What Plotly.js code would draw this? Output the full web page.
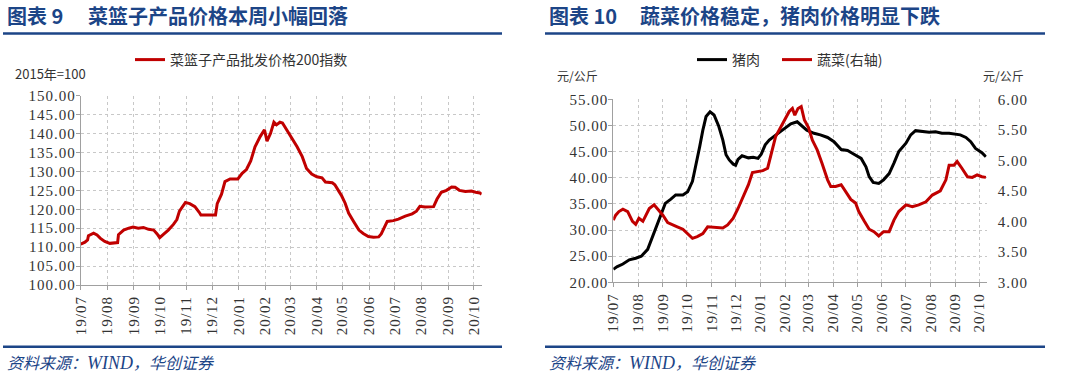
<!DOCTYPE html>
<html><head><meta charset="utf-8">
<script src="https://cdn.plot.ly/plotly-3.0.1.min.js"></script>
<style>
html,body{margin:0;padding:0;background:#fff;}
#chart{width:1072px;height:386px;}
.xtick text, .x2tick text, .ytick text, .y2tick text, .y3tick text {letter-spacing: 1px;}
</style>
</head><body><div id="chart"></div><script>
// ---------- data ----------
const basketDates = ['2019-07-01','2019-07-06','2019-07-09','2019-07-10','2019-07-16','2019-07-20','2019-07-24','2019-07-29','2019-08-04','2019-08-10','2019-08-13','2019-08-14','2019-08-20','2019-08-26','2019-08-31','2019-09-06','2019-09-12','2019-09-18','2019-09-24','2019-09-28','2019-10-01','2019-10-05','2019-10-11','2019-10-17','2019-10-21','2019-10-24','2019-10-28','2019-10-31','2019-11-05','2019-11-11','2019-11-16','2019-11-18','2019-11-25','2019-12-05','2019-12-07','2019-12-12','2019-12-16','2019-12-22','2019-12-31','2020-01-05','2020-01-10','2020-01-15','2020-01-20','2020-01-26','2020-01-31','2020-02-03','2020-02-07','2020-02-11','2020-02-14','2020-02-18','2020-02-21','2020-02-26','2020-03-02','2020-03-09','2020-03-15','2020-03-20','2020-03-26','2020-04-01','2020-04-07','2020-04-11','2020-04-19','2020-04-22','2020-04-26','2020-04-30','2020-05-04','2020-05-08','2020-05-14','2020-05-20','2020-05-25','2020-05-31','2020-06-06','2020-06-12','2020-06-15','2020-06-19','2020-06-22','2020-06-29','2020-07-05','2020-07-13','2020-07-21','2020-07-26','2020-07-30','2020-08-05','2020-08-15','2020-08-19','2020-08-24','2020-08-30','2020-09-05','2020-09-09','2020-09-14','2020-09-21','2020-09-28','2020-10-03','2020-10-08','2020-10-10'];
const basketIndex = [110.8,111.3,111.9,113.0,113.7,113.2,112.3,111.5,111.0,111.2,111.2,113.3,114.5,115.0,115.3,115.0,115.2,114.7,114.5,113.5,112.5,113.3,114.5,116.0,117.3,119.5,121.0,121.8,121.5,120.7,119.2,118.5,118.5,118.5,121.5,124.0,127.3,128.0,128.0,129.5,130.5,132.8,136.5,139.2,141.0,138.0,140.0,143.0,142.3,143.0,142.8,141.0,139.0,136.5,133.9,130.8,129.3,128.6,128.3,127.2,127.0,126.5,125.0,123.5,121.6,119.0,116.7,114.5,113.6,112.8,112.6,112.7,113.5,115.2,116.8,117.0,117.4,118.2,118.8,119.5,120.8,120.6,120.7,122.7,124.5,125.0,125.9,125.8,125.0,124.7,124.8,124.5,124.3,124.0];

const porkDates = ['2019-07-01','2019-07-06','2019-07-13','2019-07-21','2019-07-29','2019-08-05','2019-08-13','2019-08-19','2019-08-25','2019-08-31','2019-09-04','2019-09-11','2019-09-17','2019-09-26','2019-10-02','2019-10-08','2019-10-12','2019-10-17','2019-10-21','2019-10-25','2019-10-30','2019-11-04','2019-11-10','2019-11-15','2019-11-19','2019-11-23','2019-11-28','2019-12-01','2019-12-04','2019-12-09','2019-12-17','2019-12-23','2019-12-29','2020-01-02','2020-01-07','2020-01-12','2020-01-18','2020-01-26','2020-02-02','2020-02-08','2020-02-16','2020-02-22','2020-02-28','2020-03-08','2020-03-16','2020-03-25','2020-04-02','2020-04-11','2020-04-19','2020-04-27','2020-05-06','2020-05-12','2020-05-16','2020-05-21','2020-05-28','2020-06-03','2020-06-10','2020-06-16','2020-06-22','2020-07-01','2020-07-07','2020-07-13','2020-07-21','2020-07-30','2020-08-07','2020-08-15','2020-08-24','2020-09-01','2020-09-07','2020-09-14','2020-09-20','2020-09-26','2020-10-04','2020-10-09'];
const porkPrice = [22.5,23.0,23.5,24.3,24.6,25.0,26.3,28.7,31.3,33.8,35.1,35.9,36.7,36.7,37.3,39.3,42.1,45.9,49.1,51.7,52.6,52.0,49.8,47.2,44.4,43.4,42.6,42.4,43.5,44.2,43.8,43.9,43.7,44.5,46.3,47.2,47.9,48.8,49.6,50.3,50.7,49.9,49.1,48.5,48.2,47.7,46.9,45.4,45.2,44.5,43.7,42.1,40.2,39.1,38.9,39.6,40.8,42.8,45.0,46.6,48.2,49.0,48.9,48.7,48.8,48.5,48.5,48.4,48.2,47.7,46.9,45.6,44.8,44.0];

const vegDates = ['2019-07-01','2019-07-04','2019-07-08','2019-07-13','2019-07-19','2019-07-25','2019-07-29','2019-08-02','2019-08-07','2019-08-11','2019-08-15','2019-08-21','2019-08-25','2019-09-01','2019-09-07','2019-09-13','2019-09-19','2019-09-26','2019-10-02','2019-10-08','2019-10-14','2019-10-21','2019-10-27','2019-11-02','2019-11-08','2019-11-15','2019-11-21','2019-11-28','2019-12-04','2019-12-10','2019-12-17','2019-12-22','2019-12-27','2020-01-04','2020-01-10','2020-01-14','2020-01-20','2020-01-25','2020-01-31','2020-02-06','2020-02-10','2020-02-13','2020-02-17','2020-02-21','2020-02-25','2020-03-01','2020-03-06','2020-03-12','2020-03-18','2020-03-25','2020-03-29','2020-04-04','2020-04-11','2020-04-17','2020-04-23','2020-04-29','2020-05-03','2020-05-10','2020-05-16','2020-05-22','2020-05-28','2020-06-03','2020-06-10','2020-06-16','2020-06-22','2020-07-01','2020-07-09','2020-07-17','2020-07-26','2020-08-03','2020-08-13','2020-08-20','2020-08-24','2020-08-30','2020-09-03','2020-09-09','2020-09-16','2020-09-22','2020-09-28','2020-10-04','2020-10-09'];
const vegPrice = [4.02,4.10,4.16,4.20,4.16,4.00,3.95,4.05,4.00,4.10,4.21,4.27,4.21,4.10,3.98,3.94,3.91,3.87,3.80,3.72,3.75,3.80,3.91,3.90,3.89,3.89,3.94,4.05,4.21,4.40,4.60,4.80,4.81,4.83,4.87,5.06,5.39,5.51,5.66,5.80,5.85,5.74,5.85,5.88,5.66,5.54,5.33,5.17,4.95,4.68,4.57,4.57,4.60,4.49,4.36,4.30,4.16,4.00,3.87,3.83,3.76,3.83,3.83,4.02,4.16,4.27,4.24,4.27,4.32,4.43,4.50,4.68,4.92,4.92,4.98,4.87,4.73,4.72,4.76,4.73,4.72];

const seriesNames = ['菜篮子产品批发价格200指数','猪肉','蔬菜(右轴)'];
const titlesLeft = ['图表 9','菜篮子产品价格本周小幅回落'];
const titlesRight = ['图表 10','蔬菜价格稳定，猪肉价格明显下跌'];
const sourceParts = ['资料来源：', 'WIND', '，华创证券'];

// ---------- layout helpers ----------
const W = 1072, H = 386;
const px = x => x / W;
const py = y => 1 - y / H;
const NAVY = '#1c4587';
const CJK = '"Noto Sans CJK SC", sans-serif';
const SERIF = '"Liberation Serif", "DejaVu Serif", serif';

const xBase = {
  type: 'date', range: ['2019-07-01', '2020-10-10'],
  tick0: '2019-07-01', dtick: 'M1', tickformat: '%y/%m', tickangle: -90,
  showgrid: true, gridcolor: '#c8c8c8', griddash: 'dot', gridwidth: 1,
  showline: true, linecolor: '#a0a0a0', linewidth: 1,
  ticks: 'outside', ticklen: 4, tickcolor: '#a0a0a0',
  tickfont: {family: SERIF, size: 15, color: '#333'},
  fixedrange: true, zeroline: false
};
const yBase = {
  showgrid: true, gridcolor: '#c8c8c8', griddash: 'dot', gridwidth: 1,
  showline: true, linecolor: '#a0a0a0', linewidth: 1,
  ticks: 'outside', ticklen: 4, tickcolor: '#a0a0a0',
  tickformat: '.2f', tickfont: {family: SERIF, size: 15, color: '#333'},
  zeroline: false, fixedrange: true
};

const traces = [
  {x: basketDates, y: basketIndex, name: seriesNames[0], type: 'scatter', mode: 'lines',
   line: {color: '#c00000', width: 3}, xaxis: 'x', yaxis: 'y', legend: 'legend'},
  {x: porkDates, y: porkPrice, name: seriesNames[1], type: 'scatter', mode: 'lines',
   line: {color: '#000000', width: 3}, xaxis: 'x2', yaxis: 'y2', legend: 'legend2'},
  {x: vegDates, y: vegPrice, name: seriesNames[2], type: 'scatter', mode: 'lines',
   line: {color: '#c00000', width: 3}, xaxis: 'x2', yaxis: 'y3', legend: 'legend3'}
];

const legendFont = {family: CJK, size: 14, color: '#333'};
const sourceHtml = sourceParts[0] + '<span style="font-family:\'Liberation Serif\';font-size:18px">' + sourceParts[1] + '</span>' + sourceParts[2];

const layout = {
  width: W, height: H, margin: {l: 0, r: 0, t: 0, b: 0},
  paper_bgcolor: '#fff', plot_bgcolor: '#fff', showlegend: true,
  xaxis: Object.assign({}, xBase, {domain: [px(80.7), px(481.7)], anchor: 'y'}),
  yaxis: Object.assign({}, yBase, {domain: [py(285), py(95.7)], range: [100, 150], dtick: 5, anchor: 'x', ticklabelstandoff: -3}),
  xaxis2: Object.assign({}, xBase, {domain: [px(613.3), px(986.7)], anchor: 'y2'}),
  yaxis2: Object.assign({}, yBase, {domain: [py(282.3), py(99.3)], range: [20, 55], dtick: 5, anchor: 'x2', ticklabelstandoff: -3}),
  yaxis3: Object.assign({}, yBase, {range: [3, 6], dtick: 0.5, overlaying: 'y2', side: 'right', anchor: 'x2',
    showgrid: false, showline: false, ticks: '', ticklabelstandoff: 10}),
  legend: {x: px(130), y: py(60), xanchor: 'left', yanchor: 'middle', orientation: 'h', font: legendFont, bgcolor: 'rgba(0,0,0,0)'},
  legend2: {x: px(692), y: py(60), xanchor: 'left', yanchor: 'middle', orientation: 'h', font: legendFont, bgcolor: 'rgba(0,0,0,0)'},
  legend3: {x: px(777), y: py(60), xanchor: 'left', yanchor: 'middle', orientation: 'h', font: legendFont, bgcolor: 'rgba(0,0,0,0)'},
  shapes: [
    {type: 'line', xref: 'paper', yref: 'paper', x0: px(3), x1: px(502), y0: py(33.5), y1: py(33.5), line: {color: NAVY, width: 2.5}},
    {type: 'line', xref: 'paper', yref: 'paper', x0: px(545), x1: px(1045), y0: py(33.5), y1: py(33.5), line: {color: NAVY, width: 2.5}},
    {type: 'line', xref: 'paper', yref: 'paper', x0: px(3), x1: px(502), y0: py(346.7), y1: py(346.7), line: {color: NAVY, width: 2.5}},
    {type: 'line', xref: 'paper', yref: 'paper', x0: px(545), x1: px(1045), y0: py(346.7), y1: py(346.7), line: {color: NAVY, width: 2.5}}
  ],
  annotations: [
    {text: '<b>' + titlesLeft[0] + '</b>', x: px(5), y: py(15.5), xref: 'paper', yref: 'paper', xanchor: 'left', yanchor: 'middle', showarrow: false, font: {family: CJK, size: 20, color: NAVY}},
    {text: '<b>' + titlesLeft[1] + '</b>', x: px(86), y: py(15.5), xref: 'paper', yref: 'paper', xanchor: 'left', yanchor: 'middle', showarrow: false, font: {family: CJK, size: 20, color: NAVY}},
    {text: '<b>' + titlesRight[0] + '</b>', x: px(547), y: py(15.5), xref: 'paper', yref: 'paper', xanchor: 'left', yanchor: 'middle', showarrow: false, font: {family: CJK, size: 20, color: NAVY}},
    {text: '<b>' + titlesRight[1] + '</b>', x: px(638), y: py(15.5), xref: 'paper', yref: 'paper', xanchor: 'left', yanchor: 'middle', showarrow: false, font: {family: CJK, size: 20, color: NAVY}},
    {text: '2015年=100', x: px(13), y: py(73), xref: 'paper', yref: 'paper', xanchor: 'left', yanchor: 'middle', showarrow: false, font: {family: CJK, size: 13, color: '#333'}},
    {text: '元/公斤', x: px(555), y: py(75), xref: 'paper', yref: 'paper', xanchor: 'left', yanchor: 'middle', showarrow: false, font: {family: CJK, size: 12, color: '#333'}},
    {text: '元/公斤', x: px(981), y: py(75), xref: 'paper', yref: 'paper', xanchor: 'left', yanchor: 'middle', showarrow: false, font: {family: CJK, size: 12, color: '#333'}},
    {text: sourceHtml, x: px(5), y: py(362), xref: 'paper', yref: 'paper', xanchor: 'left', yanchor: 'middle', showarrow: false, font: {family: CJK, size: 16, color: NAVY, style: 'italic'}},
    {text: sourceHtml, x: px(547), y: py(362), xref: 'paper', yref: 'paper', xanchor: 'left', yanchor: 'middle', showarrow: false, font: {family: CJK, size: 16, color: NAVY, style: 'italic'}}
  ]
};

Plotly.newPlot('chart', traces, layout, {staticPlot: true, displayModeBar: false});
</script></body></html>
